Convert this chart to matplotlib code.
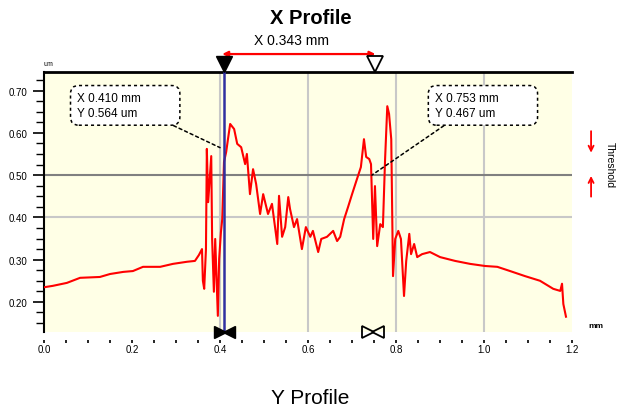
import numpy as np
import matplotlib
matplotlib.use('Agg')
import matplotlib.pyplot as plt
from matplotlib.ticker import MultipleLocator, FixedLocator
import matplotlib.transforms as mtransforms

plt.rcParams['font.family'] = ['Liberation Sans', 'DejaVu Sans']

# profile data (mm, um)
x_mm = [0.002, 0.020, 0.052, 0.082, 0.127, 0.150, 0.180, 0.202, 0.225, 0.264,
        0.293, 0.325, 0.343, 0.352, 0.359, 0.361, 0.364, 0.368, 0.370, 0.373,
        0.380, 0.382, 0.386, 0.389, 0.395, 0.398, 0.402, 0.405, 0.409, 0.414,
        0.418, 0.423, 0.432, 0.439, 0.448, 0.457, 0.461, 0.468, 0.475, 0.482,
        0.491, 0.498, 0.509, 0.518, 0.530, 0.534, 0.541, 0.548, 0.555, 0.559,
        0.568, 0.575, 0.586, 0.595, 0.605, 0.611, 0.623, 0.630, 0.643, 0.657,
        0.666, 0.673, 0.682, 0.691, 0.700, 0.709, 0.720, 0.727, 0.732, 0.739,
        0.743, 0.748, 0.752, 0.757, 0.764, 0.770, 0.775, 0.780, 0.784, 0.789,
        0.793, 0.798, 0.805, 0.811, 0.818, 0.823, 0.830, 0.834, 0.841, 0.848,
        0.859, 0.877, 0.900, 0.934, 0.968, 1.002, 1.030, 1.059, 1.093, 1.127,
        1.157, 1.173, 1.177, 1.180, 1.186]
y_um = [0.235, 0.238, 0.245, 0.257, 0.259, 0.266, 0.271, 0.273, 0.283, 0.283,
        0.290, 0.295, 0.297, 0.311, 0.325, 0.250, 0.231, 0.325, 0.562, 0.436,
        0.545, 0.349, 0.224, 0.349, 0.167, 0.302, 0.365, 0.396, 0.531, 0.555,
        0.585, 0.621, 0.609, 0.574, 0.566, 0.526, 0.550, 0.455, 0.514, 0.479,
        0.408, 0.455, 0.408, 0.432, 0.337, 0.451, 0.354, 0.377, 0.448, 0.420,
        0.377, 0.396, 0.325, 0.377, 0.354, 0.368, 0.318, 0.349, 0.354, 0.368,
        0.344, 0.354, 0.396, 0.425, 0.455, 0.484, 0.519, 0.585, 0.543, 0.538,
        0.526, 0.349, 0.474, 0.332, 0.384, 0.377, 0.538, 0.663, 0.645, 0.585,
        0.261, 0.349, 0.368, 0.349, 0.214, 0.297, 0.361, 0.313, 0.337, 0.306,
        0.313, 0.318, 0.306, 0.297, 0.290, 0.285, 0.283, 0.273, 0.261, 0.250,
        0.231, 0.226, 0.243, 0.195, 0.165]

x_ticks = [0.0, 0.2, 0.4, 0.6, 0.8, 1.0, 1.2]
x_labels = ['0.0', '0.2', '0.4', '0.6', '0.8', '1.0', '1.2']
y_ticks = [0.2, 0.3, 0.4, 0.5, 0.6, 0.7]
y_labels = ['0.20', '0.30', '0.40', '0.50', '0.60', '0.70']
x_grid = [0.4, 0.6, 0.8, 1.0]

threshold = 0.5
cursor1 = (0.410, 0.564)
cursor2 = (0.753, 0.467)
cursor2_pt = (0.745, 0.500)

fig = plt.figure(figsize=(6.17, 4.10), dpi=100)
ax = fig.add_axes([0.0713, 0.188, 0.856, 0.634])
ax.set_facecolor('#ffffe6')
ax.set_xlim(0, 1.2)
ax.set_ylim(0.129, 0.744)

for g in x_grid:
    ax.axvline(g, color='#c8c8c8', lw=1.5, zorder=1)
ax.axhline(0.4, color='#c8c8c8', lw=1.5, zorder=1)
ax.axhline(threshold, color='#808080', lw=1.5, zorder=1)

ax.plot(x_mm, y_um, color='red', lw=1.5, zorder=3)

# cursor 1 line
ax.axvline(cursor1[0], color='#3030a0', lw=1.8, zorder=4)

ax.spines['right'].set_visible(False)
ax.spines['bottom'].set_visible(False)
ax.spines['bottom'].set_position(('outward', 6))
ax.spines['top'].set_linewidth(2)
ax.spines['left'].set_linewidth(1.5)

ax.xaxis.set_major_locator(FixedLocator(x_ticks))
ax.set_xticklabels(x_labels)
ax.xaxis.set_minor_locator(MultipleLocator(0.05))
ax.yaxis.set_major_locator(FixedLocator(y_ticks))
ax.set_yticklabels(y_labels)
ax.yaxis.set_minor_locator(MultipleLocator(0.025))
ax.tick_params(axis='x', which='both', length=2, width=1.2, pad=1, labelsize=7)
ax.tick_params(axis='y', which='major', length=8, width=1.2, pad=4, labelsize=7)
ax.tick_params(axis='y', which='minor', length=6, width=1.0)

# cursor markers
trans = mtransforms.blended_transform_factory(ax.transData, ax.transAxes)
ax.plot([cursor1[0]], [1.03], marker='v', ms=11, color='black', transform=trans, clip_on=False, zorder=6)
ax.plot([cursor2[0]], [1.03], marker='v', ms=11, mfc='white', mec='black', mew=1.3,
        transform=trans, clip_on=False, zorder=6)
d = 0.011
ax.plot([cursor1[0] - d], [0.0], marker='>', ms=9, color='black', transform=trans, clip_on=False, zorder=6)
ax.plot([cursor1[0] + d], [0.0], marker='<', ms=9, color='black', transform=trans, clip_on=False, zorder=6)
ax.plot([cursor2[0] - d - 0.006], [0.0], marker='>', ms=8, mfc='none', mec='black', mew=1.3,
        transform=trans, clip_on=False, zorder=6)
ax.plot([cursor2[0] + d - 0.006], [0.0], marker='<', ms=8, mfc='none', mec='black', mew=1.3,
        transform=trans, clip_on=False, zorder=6)

# distance arrow
ax.annotate('', xy=(cursor1[0] - 0.005, 1.069), xytext=(cursor2[0], 1.069), xycoords=trans, textcoords=trans,
            arrowprops=dict(arrowstyle='<|-|>', color='red', lw=1.6, mutation_scale=8,
                            shrinkA=0, shrinkB=0), annotation_clip=False)
ax.text((cursor1[0] + cursor2[0]) / 2 - 0.02, 1.096, 'X 0.343 mm', transform=trans,
        ha='center', va='bottom', fontsize=10)

# callouts
box = dict(boxstyle='round,pad=0.55,rounding_size=0.7', fc='white', ec='black', ls=(0, (2, 2)), lw=1.1)
ax.annotate('X 0.410 mm          \nY 0.564 um          ', xy=(cursor1[0] - 0.01, 0.565),
            xytext=(0.075, 0.665), fontsize=8.5, ha='left', va='center', bbox=box, zorder=7,
            linespacing=1.3,
            arrowprops=dict(arrowstyle='-', ls=(0, (2, 2)), color='black', lw=1.1,
                            shrinkA=0, shrinkB=0, relpos=(0.85, 0.0)))
ax.annotate('X 0.753 mm          \nY 0.467 um          ', xy=cursor2_pt,
            xytext=(0.888, 0.665), fontsize=8.5, ha='left', va='center', bbox=box, zorder=7,
            linespacing=1.3,
            arrowprops=dict(arrowstyle='-', ls=(0, (2, 2)), color='black', lw=1.1,
                            shrinkA=0, shrinkB=0, relpos=(0.2, 0.0)))

# threshold arrows on the right
ax.annotate('', xy=(1.243, 0.553), xytext=(1.243, 0.604), xycoords='data', annotation_clip=False,
            arrowprops=dict(arrowstyle='->', color='red', lw=1.3, mutation_scale=9, shrinkA=0, shrinkB=0))
ax.annotate('', xy=(1.243, 0.498), xytext=(1.243, 0.449), xycoords='data', annotation_clip=False,
            arrowprops=dict(arrowstyle='->', color='red', lw=1.3, mutation_scale=9, shrinkA=0, shrinkB=0))

fig.text(0.988, 0.598, 'Threshold', rotation=270, fontsize=7.5, ha='center', va='center')
ax.text(0.0, 1.02, 'um', transform=ax.transAxes, fontsize=5, ha='left', va='bottom')
fig.text(0.965, 0.203, 'mm', fontsize=6, ha='center', va='center', fontweight='bold')

fig.text(0.503, 0.956, 'X Profile', ha='center', va='center', fontsize=14.5, fontweight='bold')
fig.text(0.503, 0.028, 'Y Profile', ha='center', va='center', fontsize=15)

fig.savefig('out.png', dpi=100)
